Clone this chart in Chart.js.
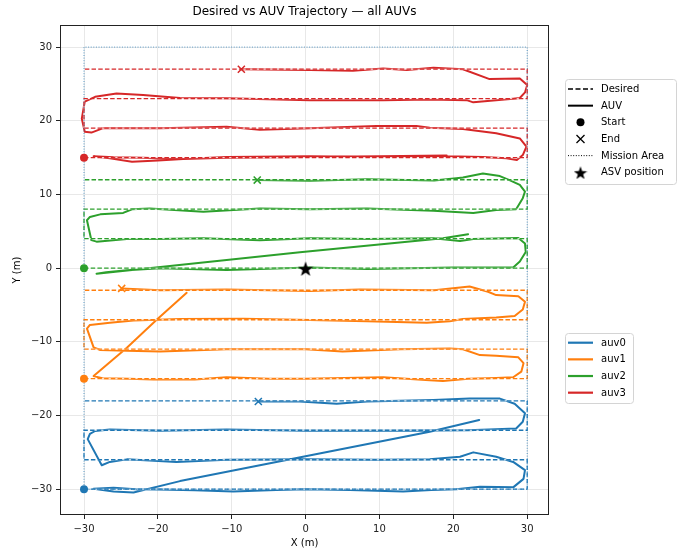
<!DOCTYPE html>
<html>
<head>
<meta charset="utf-8">
<script src="https://cdn.jsdelivr.net/npm/chart.js@4.4.1/dist/chart.umd.min.js"></script>
<style>
  html, body { margin: 0; padding: 0; background: #fff; }
</style>
</head>
<body>
<canvas id="traj" width="694" height="550"></canvas>
<script>
// ---- data ----
const xTicks = [-30, -20, -10, 0, 10, 20, 30];
const yTicks = [-30, -20, -10, 0, 10, 20, 30];
const auvNames = ['auv0', 'auv1', 'auv2', 'auv3'];
const auvColors = ['#1f77b4', '#ff7f0e', '#2ca02c', '#d62728'];
const keyLabels = ['Desired', 'AUV', 'Start', 'End', 'Mission Area', 'ASV position'];

const missionArea = [[-30, -30], [30, -30], [30, 30], [-30, 30], [-30, -30]];
const asvPosition = [0, 0];
const startPoints = [[-30, -30], [-30, -15], [-30, 0], [-30, 15]];

const desired0 = [[-30, -30], [30, -30], [30, -26], [-30, -26], [-30, -22], [30, -22], [30, -18], [-30, -18]];
const desired1 = [[-30, -15], [30, -15], [30, -11], [-30, -11], [-30, -7], [30, -7], [30, -3], [-30, -3]];
const desired2 = [[-30, 0], [30, 0], [30, 4], [-30, 4], [-30, 8], [30, 8], [30, 12], [-30, 12]];
const desired3 = [[-30, 15], [30, 15], [30, 19], [-30, 19], [-30, 23], [30, 23], [30, 27], [-30, 27]];

const actual0 = [[23.5, -20.6], [16.8, -22.2], [-17, -28.9], [-23.3, -30.45], [-26, -30.3], [-28.7, -29.95],
  [-26, -29.8], [-23, -30.0], [-20, -30.05], [-15, -30.15], [-9.8, -30.3], [-4, -30.1], [0.1, -30.0],
  [6, -30.1], [13.2, -30.3], [17, -30.1], [20.4, -30.0], [23.6, -29.65], [26, -29.7], [28.1, -29.75],
  [29.5, -28.6], [29.7, -27.4], [28.1, -26.3], [25.8, -25.6], [22.7, -25.0], [20.9, -25.6], [16.8, -25.95],
  [10, -26.0], [0, -25.95], [-10.7, -26.0], [-17.5, -26.3], [-24.2, -25.95], [-26.5, -26.3], [-27.6, -26.75],
  [-29.5, -23.2], [-29.2, -22.5], [-28.5, -22.1], [-26.5, -21.9], [-19.7, -22.05], [-10.7, -21.9], [0, -22.05],
  [12.8, -22.05], [22, -22.0], [28.5, -21.75], [29.4, -20.85], [29.7, -19.7], [28.3, -18.4], [26.3, -17.7],
  [22.2, -17.7], [17.3, -17.9], [8.3, -18.1], [4.2, -18.4], [-0.8, -18.1], [-6.4, -18.1]];

const actual1 = [[-16.1, -3.35], [-20.2, -7.05], [-24.2, -10.8], [-28.7, -14.65], [-27.5, -14.95], [-24, -15.0],
  [-20.6, -15.1], [-15, -15.1], [-10.7, -14.8], [-5, -15.0], [0, -15.0], [10.5, -14.8], [16.8, -15.2],
  [18.6, -15.3], [22, -15.0], [25.8, -14.9], [28.1, -14.8], [29.2, -14.05], [29.5, -12.9], [28.8, -12.1],
  [25.8, -11.9], [23.6, -11.8], [21.3, -11.0], [19.5, -10.9], [12.8, -11.0], [5.0, -11.3], [0, -11.0],
  [-10.7, -11.0], [-19.7, -11.3], [-24.2, -11.2], [-27.8, -11.1], [-28.7, -10.75], [-29.6, -8.2], [-29.2, -7.7],
  [-26.5, -7.4], [-23.3, -7.1], [-17, -6.9], [-8.4, -6.85], [0.6, -7.05], [8.3, -7.2], [16.4, -7.4],
  [19.5, -7.2], [21.3, -6.9], [25.8, -6.7], [28.3, -6.5], [29.4, -5.6], [29.7, -4.55], [28.8, -3.8],
  [25.8, -3.65], [24.7, -3.2], [22.2, -2.5], [17.4, -3.0], [7.35, -2.9], [0.6, -3.1], [-10.7, -2.9],
  [-19.7, -3.0], [-24.9, -2.75]];

const actual2 = [[22, 4.6], [18.6, 4.05], [-0.77, 2.15], [-28.3, -0.75], [-27, -0.55], [-24.2, -0.3],
  [-19.7, 0.0], [-10.7, -0.25], [0.6, 0.1], [8.3, -0.1], [20, 0.1], [28.1, 0.1], [29.0, 0.9], [29.8, 2.2],
  [29.7, 3.35], [28.8, 4.1], [22.7, 3.95], [20.9, 3.7], [17.3, 4.05], [8.3, 3.95], [0.6, 4.05], [-6.2, 3.8],
  [-13.9, 4.05], [-19.7, 3.95], [-24.2, 3.95], [-28.3, 3.6], [-29.0, 3.8], [-29.6, 6.5], [-29.2, 6.95],
  [-27.8, 7.3], [-24.7, 7.5], [-23.5, 8.0], [-21.1, 8.1], [-13.85, 7.65], [-6.2, 8.1], [0.6, 8.0], [8.3, 8.1],
  [17.3, 7.8], [22.7, 7.5], [25.8, 7.9], [28.5, 8.0], [29.4, 9.5], [29.7, 10.4], [29.0, 11.3], [27.6, 11.95],
  [26.3, 12.5], [24.0, 12.85], [21.3, 12.3], [20.4, 12.2], [17.4, 11.9], [8.3, 12.05], [0.6, 11.85],
  [-6.55, 11.95]];

const actual3 = [[19.1, 15.3], [10, 15.2], [0, 15.1], [-10.7, 15.0], [-16.6, 14.8], [-20, 14.6], [-23.5, 14.45],
  [-26.5, 14.9], [-28.7, 15.2], [-26, 15.05], [-22, 15.0], [-16.6, 14.8], [-10.7, 15.1], [0.6, 15.2], [10, 15.1],
  [19.1, 15.2], [24.0, 15.1], [27.2, 14.9], [28.6, 14.67], [29.4, 15.35], [29.9, 16.5], [29.0, 17.6],
  [25.8, 18.3], [21.3, 18.9], [16.8, 19.05], [15.0, 19.3], [9.6, 19.3], [0.6, 19.0], [-6.2, 18.8],
  [-10.7, 19.2], [-19.7, 19.0], [-27.4, 19.0], [-29.0, 18.4], [-29.9, 18.5], [-30.3, 20.3], [-29.9, 22.6],
  [-28.5, 23.25], [-25.6, 23.7], [-22.0, 23.5], [-17.0, 23.1], [-10.7, 23.05], [0.6, 22.8], [10.5, 22.8],
  [16.8, 22.9], [21.8, 22.8], [22.7, 22.5], [28.1, 23.0], [29.0, 23.1], [29.7, 23.85], [30.0, 24.85],
  [29.0, 25.75], [24.9, 25.66], [21.3, 27.0], [17.3, 27.2], [13.7, 26.9], [10.5, 27.1], [6.4, 26.8],
  [0.6, 26.9], [-8.7, 27.0]];

const desiredPaths = [desired0, desired1, desired2, desired3];
const actualPaths = [actual0, actual1, actual2, actual3];

// ---- helpers ----
const FONT = 'DejaVu Sans';
const pts = arr => arr.map(p => ({ x: p[0], y: p[1] }));
const fmt = v => (v < 0 ? '\u2212' + Math.abs(v) : String(v));

function starImage(size) {
  const c = document.createElement('canvas');
  c.width = c.height = size;
  const g = c.getContext('2d');
  const R = size / 2, r = R * 0.4;
  g.beginPath();
  for (let i = 0; i < 10; i++) {
    const rad = i % 2 ? r : R;
    const a = -Math.PI / 2 + i * Math.PI / 5;
    g.lineTo(R + rad * Math.cos(a), R + 0.08 * size + rad * Math.sin(a));
  }
  g.closePath();
  g.fillStyle = '#000';
  g.fill();
  return c;
}

const datasets = [];
auvNames.forEach((name, i) => {
  datasets.push({
    label: name, data: pts(actualPaths[i]), showLine: true, pointRadius: 0,
    borderColor: auvColors[i], borderWidth: 2, borderJoinStyle: 'round', borderCapStyle: 'round', order: 60
  });
  datasets.push({
    label: name + ' desired bg', data: pts(desiredPaths[i]), showLine: true, pointRadius: 0,
    borderColor: 'rgba(255,255,255,0.9)', borderWidth: 1, order: 50
  });
  datasets.push({
    label: name + ' desired', data: pts(desiredPaths[i]), showLine: true, pointRadius: 0,
    borderColor: auvColors[i], borderWidth: 1.3, borderDash: [4.5, 2.2], order: 40
  });
  datasets.push({
    label: name + ' start', data: pts([startPoints[i]]), pointStyle: 'circle', pointRadius: 4,
    backgroundColor: auvColors[i], borderWidth: 0, order: 20
  });
  const last = actualPaths[i][actualPaths[i].length - 1];
  datasets.push({
    label: name + ' end', data: pts([last]), pointStyle: 'crossRot', pointRadius: 5,
    borderColor: auvColors[i], borderWidth: 1.5, order: 10
  });
});
datasets.push({
  label: 'Mission Area', data: pts(missionArea), showLine: true, pointRadius: 0,
  borderColor: 'rgba(31,119,180,0.75)', borderWidth: 1, borderDash: [1, 1.6], order: 30
});
datasets.push({
  label: 'ASV position', data: pts([asvPosition]), pointStyle: starImage(16), pointRadius: 8, order: 0
});

function roundBox(ctx, x, y, w, h) {
  const r = 3;
  ctx.beginPath();
  ctx.moveTo(x + r, y);
  ctx.arcTo(x + w, y, x + w, y + h, r);
  ctx.arcTo(x + w, y + h, x, y + h, r);
  ctx.arcTo(x, y + h, x, y, r);
  ctx.arcTo(x, y, x + w, y, r);
  ctx.closePath();
  ctx.fillStyle = 'rgba(255,255,255,0.85)';
  ctx.fill();
  ctx.strokeStyle = '#d4d4d4';
  ctx.lineWidth = 1;
  ctx.stroke();
}

const decorPlugin = {
  id: 'decor',
  afterDraw(chart) {
    const ctx = chart.ctx;
    const a = chart.chartArea;
    ctx.save();
    // frame
    ctx.strokeStyle = '#222';
    ctx.lineWidth = 1;
    ctx.strokeRect(a.left + 0.5, a.top + 0.5, a.right - a.left - 1, a.bottom - a.top - 1);
    // title
    ctx.fillStyle = '#000';
    ctx.font = '12px "' + FONT + '"';
    ctx.textAlign = 'center';
    ctx.textBaseline = 'middle';
    ctx.fillText('Desired vs AUV Trajectory \u2014 all AUVs', (a.left + a.right) / 2, 12);

    // key legend
    ctx.font = '10px "' + FONT + '"';
    ctx.textAlign = 'left';
    roundBox(ctx, 565.5, 79.5, 111, 105);
    const hx0 = 568, hx1 = 593, mx = 580.5, tx = 601;
    keyLabels.forEach((lab, k) => {
      const y = 89 + k * 16.66;
      ctx.strokeStyle = '#000';
      ctx.fillStyle = '#000';
      ctx.setLineDash([]);
      if (k === 0) {
        ctx.lineWidth = 1.5; ctx.setLineDash([5, 2.5]);
        ctx.beginPath(); ctx.moveTo(hx0, y); ctx.lineTo(hx1, y); ctx.stroke();
      } else if (k === 1) {
        ctx.lineWidth = 2;
        ctx.beginPath(); ctx.moveTo(hx0, y); ctx.lineTo(hx1, y); ctx.stroke();
      } else if (k === 2) {
        ctx.beginPath(); ctx.arc(mx, y, 4, 0, Math.PI * 2); ctx.fill();
      } else if (k === 3) {
        ctx.lineWidth = 1.3;
        ctx.beginPath();
        ctx.moveTo(mx - 4, y - 4); ctx.lineTo(mx + 4, y + 4);
        ctx.moveTo(mx - 4, y + 4); ctx.lineTo(mx + 4, y - 4);
        ctx.stroke();
      } else if (k === 4) {
        ctx.lineWidth = 1; ctx.setLineDash([1, 1.6]);
        ctx.beginPath(); ctx.moveTo(hx0, y); ctx.lineTo(hx1, y); ctx.stroke();
      } else {
        ctx.drawImage(starImage(14), mx - 7, y - 7);
      }
      ctx.setLineDash([]);
      ctx.fillStyle = '#000';
      ctx.fillText(lab, tx, y + 0.5);
    });

    // auv legend
    roundBox(ctx, 565.5, 333.5, 68, 70);
    auvNames.forEach((name, k) => {
      const y = 342.7 + k * 16.66;
      ctx.strokeStyle = auvColors[k];
      ctx.lineWidth = 2.2;
      ctx.beginPath(); ctx.moveTo(hx0, y); ctx.lineTo(hx1, y); ctx.stroke();
      ctx.fillStyle = '#000';
      ctx.fillText(name, tx, y + 0.5);
    });
    ctx.restore();
  }
};

const tickFont = { family: FONT, size: 10 };

new Chart(document.getElementById('traj'), {
  type: 'scatter',
  data: { datasets: datasets },
  plugins: [decorPlugin],
  options: {
    responsive: false,
    animation: false,
    events: [],
    layout: { padding: { top: 25, right: 145, left: 0, bottom: 0 } },
    plugins: { legend: { display: false }, tooltip: { enabled: false }, title: { display: false } },
    scales: {
      x: {
        type: 'linear', min: -33.25, max: 32.95,
        afterBuildTicks: s => { s.ticks = xTicks.map(v => ({ value: v })); },
        afterFit: s => { s.height = 35; },
        ticks: { callback: v => fmt(v), font: tickFont, color: '#222', padding: 4, maxRotation: 0 },
        grid: { color: '#e8e8e8', lineWidth: 1, tickLength: 4, tickColor: '#222', tickWidth: 1 },
        border: { display: false },
        title: { display: true, text: 'X (m)', font: tickFont, color: '#000', padding: { top: 0, bottom: 1 } }
      },
      y: {
        type: 'linear', min: -33.5, max: 33.0,
        afterBuildTicks: s => { s.ticks = yTicks.map(v => ({ value: v })); },
        afterFit: s => { s.width = 60; },
        ticks: { callback: v => fmt(v), font: tickFont, color: '#222', padding: 4 },
        grid: { color: '#e8e8e8', lineWidth: 1, tickLength: 4, tickColor: '#222', tickWidth: 1 },
        border: { display: false },
        title: { display: true, text: 'Y (m)', font: tickFont, color: '#000', padding: { top: 11, bottom: 0 } }
      }
    }
  }
});
</script>
</body>
</html>
